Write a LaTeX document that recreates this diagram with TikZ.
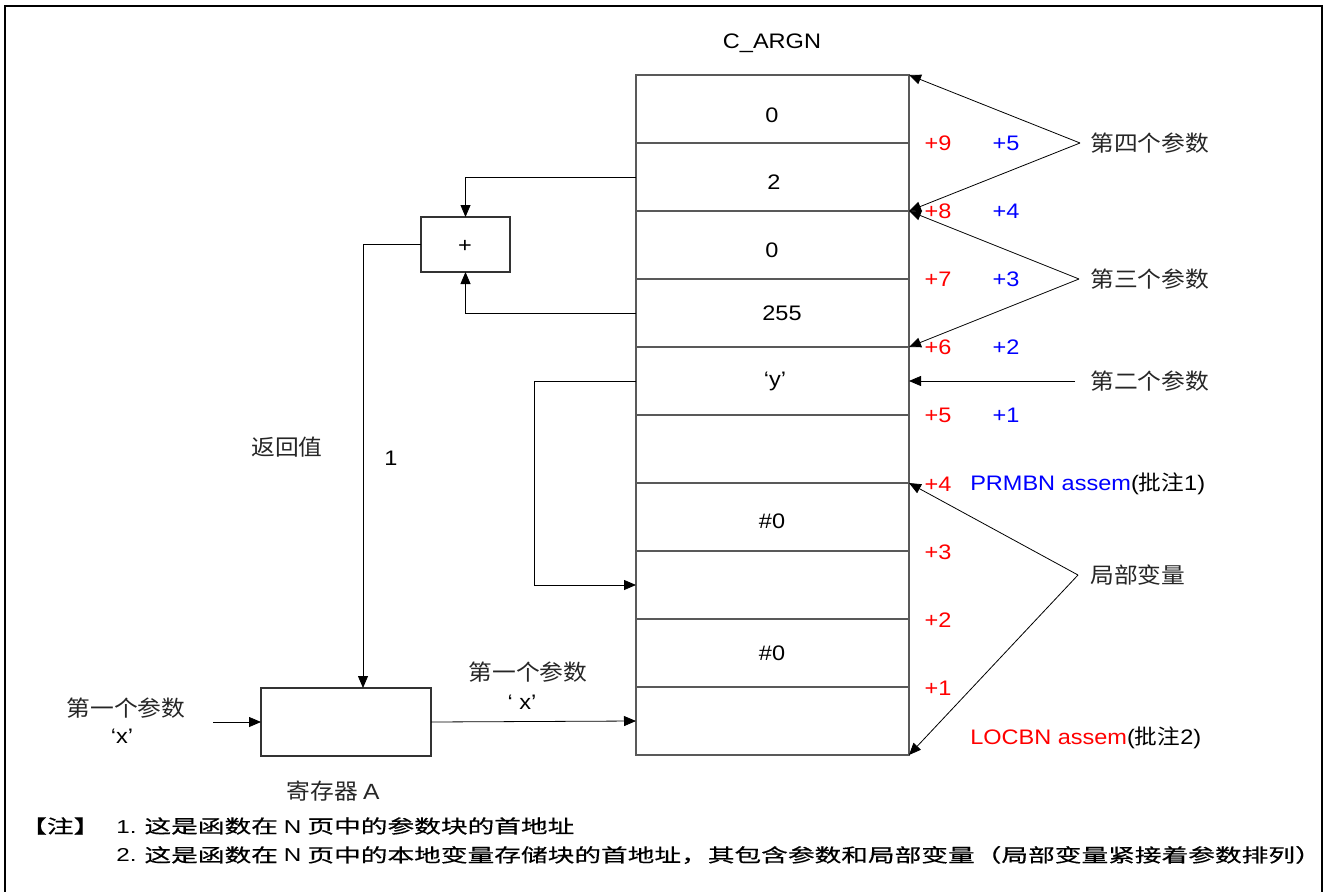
\documentclass[tikz,border=0pt]{standalone}
\usepackage{fontspec}
\setmainfont{Liberation Sans}[FakeStretch=1.12]
\newfontfamily\cjk{Noto Sans CJK SC}[FakeStretch=1.08]
\newfontfamily\fncjk{Noto Sans CJK SC}[FakeStretch=1.43,FakeBold=0.5]
\newfontfamily\fnlat{Liberation Sans}[FakeStretch=1.3]
\usetikzlibrary{arrows.meta}
\begin{document}
\begin{tikzpicture}[x=0.75pt,y=-0.75pt,
  cell/.style={draw=black!65,line width=0.9pt,minimum width=204.75pt,minimum height=51pt,inner sep=0pt,outer sep=0pt},
  box/.style={draw=black!80,line width=0.8pt,inner sep=0pt,outer sep=0pt},
  txt/.style={font=\fontsize{15.75}{18}\selectfont,inner sep=0pt},
  rtxt/.style={txt,text=red},
  btxt/.style={txt,text=blue},
  zh/.style={font=\cjk\fontsize{16.5}{19}\selectfont,inner sep=0pt,text=black!85},
  fn/.style={font=\fncjk\fontsize{14}{17}\selectfont,inner sep=0pt,text=black},
  conn/.style={line width=0.6pt,draw=black},
  arr/.style={conn,-{Triangle[length=9pt,width=7.5pt]}}]
\useasboundingbox (0,0) rectangle (1325,892);
% frame
\draw[line width=1.4pt] (5,895) -- (5,6) -- (1322,6) -- (1322,895);
% column cells
\foreach \i in {1,...,10} {
  \node[cell] (c\i) at (772.5,{109+68*(\i-1)}) {};
}
\node[txt] (title) at (772,43) {C\_ARGN};
\node[txt] (v1) at (772,115) {0};
\node[txt] (v2) at (774,182) {2};
\node[txt] (v3) at (772,250) {0};
\node[txt] (v4) at (782,313) {255};
\node[txt] (v5) at (775,381) {‘y’};
\node[txt] (v7) at (772,521) {\#0};
\node[txt] (v9) at (772,653) {\#0};
% plus box and register
\node[box,minimum width=66.75pt,minimum height=41.25pt] (plus) at (465.5,244.5) {};
\node[txt] (plussign) at (465,246) {+};
\node[box,minimum width=127.5pt,minimum height=51pt] (reg) at (346,722) {};
\node[zh] (regl) at (333,791) {寄存器 {\normalfont A}};
% connectors on the left
\draw[arr] (c2.west) -| (plus.north);
\draw[arr] (c4.west) -| (plus.south);
\coordinate (j) at (363,244.5);
\draw[arr] (plus.west) -- (j) -- (j |- reg.north);
\coordinate (yl) at (534,381);
\draw[arr] (c5.west) -- (yl) |- (c8.west);
\coordinate (inp) at (213,722);
\draw[arr] (inp) -- (reg.west);
\draw[arr] (reg.east) -- (c10.west);
\node[zh] (ret) at (287,447) {返回值};
\node[txt] (one) at (391,458) {1};
\node[zh] (p1a) at (126,708) {第一个参数};
\node[txt] (x1) at (122,736) {‘x’};
\node[zh] (p1b) at (528,672) {第一个参数};
\node[txt] (x2) at (522,702) {‘ x’};
% right side triangles
\coordinate (a4) at (1080,143);
\draw[arr] (a4) -- (c1.north east);
\draw[arr] (a4) -- (c2.south east);
\coordinate (a3) at (1079,279);
\draw[arr] (a3) -- (c3.north east);
\draw[arr] (a3) -- (c4.south east);
\coordinate (a2) at (1075,381);
\draw[arr] (a2) -- (c5.east);
\coordinate (al) at (1078,575);
\draw[arr] (al) -- (c7.north east);
\draw[arr] (al) -- (c10.south east);
\node[zh,anchor=west] (l4) at (1090,143) {第四个参数};
\node[zh,anchor=west] (l3) at (1090,279) {第三个参数};
\node[zh,anchor=west] (l2) at (1090,381) {第二个参数};
\node[zh,anchor=west] (ll) at (1090,575) {局部变量};
% offsets
\node[rtxt] (r9) at (938,143) {+9};
\node[btxt] (b5) at (1006,143) {+5};
\node[rtxt] (r8) at (938,211) {+8};
\node[btxt] (b4) at (1006,211) {+4};
\node[rtxt] (r7) at (938,279) {+7};
\node[btxt] (b3) at (1006,279) {+3};
\node[rtxt] (r6) at (938,347) {+6};
\node[btxt] (b2) at (1006,347) {+2};
\node[rtxt] (r5) at (938,415) {+5};
\node[btxt] (b1) at (1006,415) {+1};
\node[rtxt] (r4) at (938,484) {+4};
\node[rtxt] (r3) at (938,552) {+3};
\node[rtxt] (r2) at (938,620) {+2};
\node[rtxt] (r1) at (938,688) {+1};
\node[txt,anchor=west] (prm) at (970,484) {\textcolor{blue}{PRMBN assem}({\cjk 批注}1)};
\node[txt,anchor=west] (loc) at (970,738) {\textcolor{red}{LOCBN assem}({\cjk 批注}2)};
% footnotes
\node[fn,anchor=west] (zhu) at (20,826) {【注】};
\node[fn,anchor=west] (n1) at (116,826) {{\fnlat 1.} 这是函数在 {\fnlat N} 页中的参数块的首地址};
\node[fn,anchor=west] (n2) at (116,855) {{\fnlat 2.} 这是函数在 {\fnlat N} 页中的本地变量存储块的首地址，其包含参数和局部变量（局部变量紧接着参数排列）};
\end{tikzpicture}
\end{document}
